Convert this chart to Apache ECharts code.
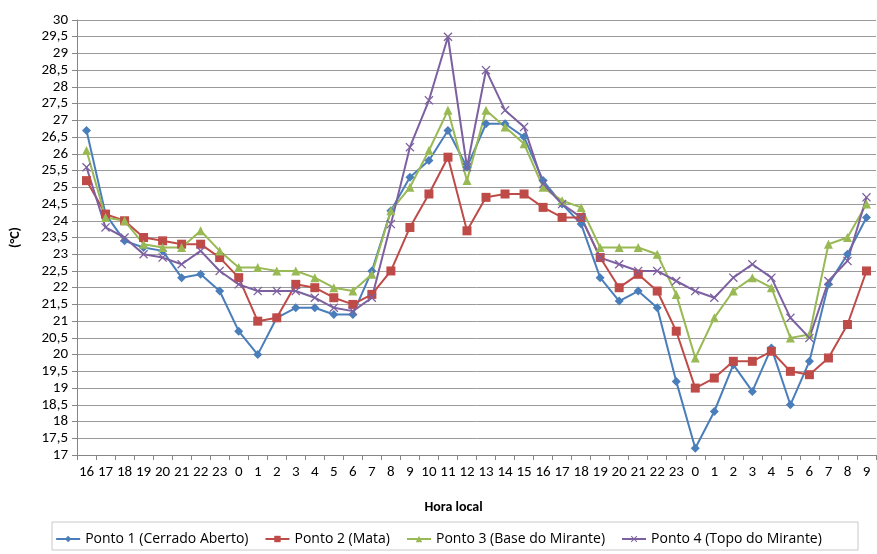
<!DOCTYPE html>
<html>
<head>
<meta charset="utf-8">
<script src="https://cdn.jsdelivr.net/npm/echarts@6/dist/echarts.min.js"></script>
<style>
  html, body { margin: 0; padding: 0; background: #fff; }
  #chart { width: 877px; height: 554px; }
</style>
</head>
<body>
<div id="chart"></div>
<script>
// Hourly air temperature (°C) at four sampling points
const hours = ['16','17','18','19','20','21','22','23','0','1','2','3','4','5','6','7','8','9','10','11','12','13','14','15',
               '16','17','18','19','20','21','22','23','0','1','2','3','4','5','6','7','8','9'];

const ponto1 = [26.7,24.2,23.4,23.2,23.1,22.3,22.4,21.9,20.7,20.0,21.1,21.4,21.4,21.2,21.2,22.5,24.3,25.3,25.8,26.7,25.6,26.9,26.9,26.5,
                25.2,24.5,23.9,22.3,21.6,21.9,21.4,19.2,17.2,18.3,19.7,18.9,20.2,18.5,19.8,22.1,23.0,24.1];
const ponto2 = [25.2,24.2,24.0,23.5,23.4,23.3,23.3,22.9,22.3,21.0,21.1,22.1,22.0,21.7,21.5,21.8,22.5,23.8,24.8,25.9,23.7,24.7,24.8,24.8,
                24.4,24.1,24.1,22.9,22.0,22.4,21.9,20.7,19.0,19.3,19.8,19.8,20.1,19.5,19.4,19.9,20.9,22.5];
const ponto3 = [26.1,24.1,24.0,23.3,23.2,23.2,23.7,23.1,22.6,22.6,22.5,22.5,22.3,22.0,21.9,22.4,24.3,25.0,26.1,27.3,25.2,27.3,26.8,26.3,
                25.0,24.6,24.4,23.2,23.2,23.2,23.0,21.8,19.9,21.1,21.9,22.3,22.0,20.5,20.6,23.3,23.5,24.5];
const ponto4 = [25.6,23.8,23.5,23.0,22.9,22.7,23.1,22.5,22.1,21.9,21.9,21.9,21.7,21.4,21.3,21.7,23.9,26.2,27.6,29.5,25.6,28.5,27.3,26.8,
                25.1,24.5,24.1,22.9,22.7,22.5,22.5,22.2,21.9,21.7,22.3,22.7,22.3,21.1,20.5,22.2,22.8,24.7];

const seriesNames = ['Ponto 1 (Cerrado Aberto)', 'Ponto 2 (Mata)', 'Ponto 3 (Base do Mirante)', 'Ponto 4 (Topo do Mirante)'];

const FONT = 'Carlito, "Liberation Sans Narrow", "Open Sans", sans-serif';
const LEGEND_FONT = '"Open Sans", sans-serif';
const xMark = 'path://M1,0L5,4L9,0L10,1L6,5L10,9L9,10L5,6L1,10L0,9L4,5L0,1Z';

function lineSeries(name, data, color, symbol, size) {
  return {
    name: name,
    type: 'line',
    data: data,
    symbol: symbol,
    symbolSize: size,
    showAllSymbol: true,
    lineStyle: { color: color, width: 2 },
    itemStyle: { color: color },
    emphasis: { disabled: true }
  };
}

const chart = echarts.init(document.getElementById('chart'), null, { renderer: 'canvas' });
chart.setOption({
  animation: false,
  backgroundColor: '#ffffff',
  textStyle: { fontFamily: FONT },
  grid: { left: 77, right: 1, top: 20, bottom: 99, containLabel: false },
  graphic: [{
    type: 'rect',
    shape: { x: 52, y: 522, width: 806, height: 28 },
    style: { fill: 'none', stroke: '#c8c8c8', lineWidth: 1 },
    silent: true
  }],
  legend: {
    top: 527,
    left: 'center',
    itemWidth: 24,
    itemHeight: 8,
    itemGap: 16,
    textStyle: { fontFamily: LEGEND_FONT, fontSize: 14, color: '#000' },
    data: seriesNames
  },
  xAxis: {
    type: 'category',
    data: hours,
    boundaryGap: true,
    name: 'Hora local',
    nameLocation: 'middle',
    nameGap: 45,
    nameTextStyle: { fontFamily: FONT, fontSize: 14, fontWeight: 'bold', color: '#000', padding: [0, 46, 0, 0] },
    axisLine: { lineStyle: { color: '#868686', width: 1 } },
    axisTick: { show: true, length: 5, interval: 0, lineStyle: { color: '#868686' } },
    axisLabel: { interval: 0, fontFamily: FONT, fontSize: 15, color: '#000', margin: 10 },
    splitLine: { show: false }
  },
  yAxis: {
    type: 'value',
    min: 17,
    max: 30,
    interval: 0.5,
    name: '(°C)',
    nameLocation: 'middle',
    nameRotate: 90,
    nameGap: 55,
    nameTextStyle: { fontFamily: FONT, fontSize: 14, fontWeight: 'bold', color: '#000' },
    axisLine: { show: true, lineStyle: { color: '#868686', width: 1 } },
    axisTick: { show: true, length: 5, lineStyle: { color: '#868686' } },
    axisLabel: {
      fontFamily: FONT, fontSize: 15, color: '#000', margin: 9,
      formatter: v => String(v).replace('.', ',')
    },
    splitLine: { show: true, lineStyle: { color: '#9a9a9a', width: 1 } }
  },
  series: [
    lineSeries(seriesNames[0], ponto1, '#4a7ebb', 'diamond', 9),
    lineSeries(seriesNames[1], ponto2, '#be4b48', 'rect', 9),
    lineSeries(seriesNames[2], ponto3, '#98b954', 'triangle', 9),
    lineSeries(seriesNames[3], ponto4, '#7d60a0', xMark, 9)
  ]
});
</script>
</body>
</html>
